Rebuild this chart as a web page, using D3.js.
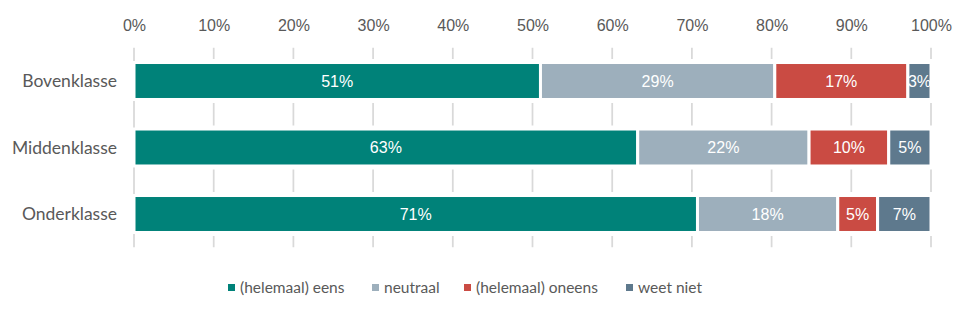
<!DOCTYPE html>
<html>
<head>
<meta charset="utf-8">
<script src="https://cdn.jsdelivr.net/npm/d3@7"></script>
<style>
  html, body { margin: 0; padding: 0; background: #fff; }
  svg { display: block; }
</style>
</head>
<body>
<svg id="chart" width="975" height="317"></svg>
<script>
const categories = ["Bovenklasse", "Middenklasse", "Onderklasse"];
const seriesNames = ["(helemaal) eens", "neutraal", "(helemaal) oneens", "weet niet"];
const seriesColors = ["#008279", "#9DAFBC", "#CA4B43", "#5E798D"];
const eens   = [51.0, 63.2, 70.7];
const neutr  = [29.4, 21.5, 17.6];
const oneens = [16.7, 10.0, 5.0];
const weet   = [2.9, 5.3, 6.7];
const eensLabels   = ["51%", "63%", "71%"];
const neutrLabels  = ["29%", "22%", "18%"];
const oneensLabels = ["17%", "10%", "5%"];
const weetLabels   = ["3%", "5%", "7%"];
const tickValues = [0, 10, 20, 30, 40, 50, 60, 70, 80, 90, 100];
const tickLabels = ["0%", "10%", "20%", "30%", "40%", "50%", "60%", "70%", "80%", "90%", "100%"];

const series = [eens, neutr, oneens, weet];
const seriesLabels = [eensLabels, neutrLabels, oneensLabels, weetLabels];

const svg = d3.select("#chart");
const x = d3.scaleLinear().domain([0, 100]).range([134, 931]);
const y = d3.scaleBand().domain(categories).range([47.75, 247.25]).paddingInner(0.444).paddingOuter(0.222);

const labelFont = "Lato, 'Noto Sans', sans-serif";
const numFont = "'Liberation Sans', Arial, sans-serif";

// gridlines
svg.append("g").selectAll("line").data(tickValues).join("line")
  .attr("x1", d => x(d)).attr("x2", d => x(d))
  .attr("y1", y.range()[0]).attr("y2", y.range()[1])
  .attr("stroke", "#D9D9D9").attr("stroke-width", 1.75);

// tick labels (top axis)
const axis = d3.axisTop(x).tickValues(tickValues).tickFormat((d, i) => tickLabels[i]).tickSize(0).tickPadding(0);
const ag = svg.append("g").attr("transform", "translate(0,30.5)").call(axis);
ag.select(".domain").remove();
ag.selectAll("text")
  .attr("dy", 0).attr("y", 0)
  .style("font-family", numFont).style("font-size", "16px").attr("fill", "#595959");

// white knock-out bands behind bars
svg.append("g").selectAll("rect").data(categories).join("rect")
  .attr("x", x(0) + 1.5).attr("width", x(100) - x(0) + 2)
  .attr("y", d => y(d) - 3.5).attr("height", y.bandwidth() + 7)
  .attr("fill", "#fff");

// stacked bars
const rows = categories.map((c, i) => {
  let cum = 0;
  return series.map((s, k) => {
    const seg = { cat: c, k, x0: cum, x1: cum + s[i], label: seriesLabels[k][i] };
    cum += s[i];
    return seg;
  });
}).flat();

svg.append("g").selectAll("rect").data(rows).join("rect")
  .attr("x", d => x(d.x0)).attr("width", d => x(d.x1) - x(d.x0))
  .attr("y", d => y(d.cat)).attr("height", y.bandwidth())
  .attr("fill", d => seriesColors[d.k])
  .attr("stroke", "#fff").attr("stroke-width", 3);

svg.append("g").selectAll("text").data(rows).join("text")
  .attr("x", d => (x(d.x0) + x(d.x1)) / 2)
  .attr("y", d => y(d.cat) + y.bandwidth() / 2)
  .attr("dy", "0.36em")
  .attr("text-anchor", "middle")
  .style("font-family", numFont).style("font-size", "16px")
  .attr("fill", "#fff")
  .text(d => d.label);

// category labels
svg.append("g").selectAll("text").data(categories).join("text")
  .attr("x", 117)
  .attr("y", d => y(d) + y.bandwidth() / 2)
  .attr("dy", "0.35em")
  .attr("text-anchor", "end")
  .style("font-family", labelFont).style("font-size", "17.5px")
  .attr("fill", "#595959")
  .text(d => d);

// legend
const legendX = [228, 372, 464, 626];
const lg = svg.append("g");
seriesNames.forEach((name, k) => {
  lg.append("rect").attr("x", legendX[k]).attr("y", 284).attr("width", 7).attr("height", 7)
    .attr("fill", seriesColors[k]);
  lg.append("text").attr("x", legendX[k] + 12).attr("y", 287.5).attr("dy", "0.35em")
    .style("font-family", labelFont).style("font-size", "15.5px").attr("fill", "#595959")
    .text(name);
});
</script>
</body>
</html>
